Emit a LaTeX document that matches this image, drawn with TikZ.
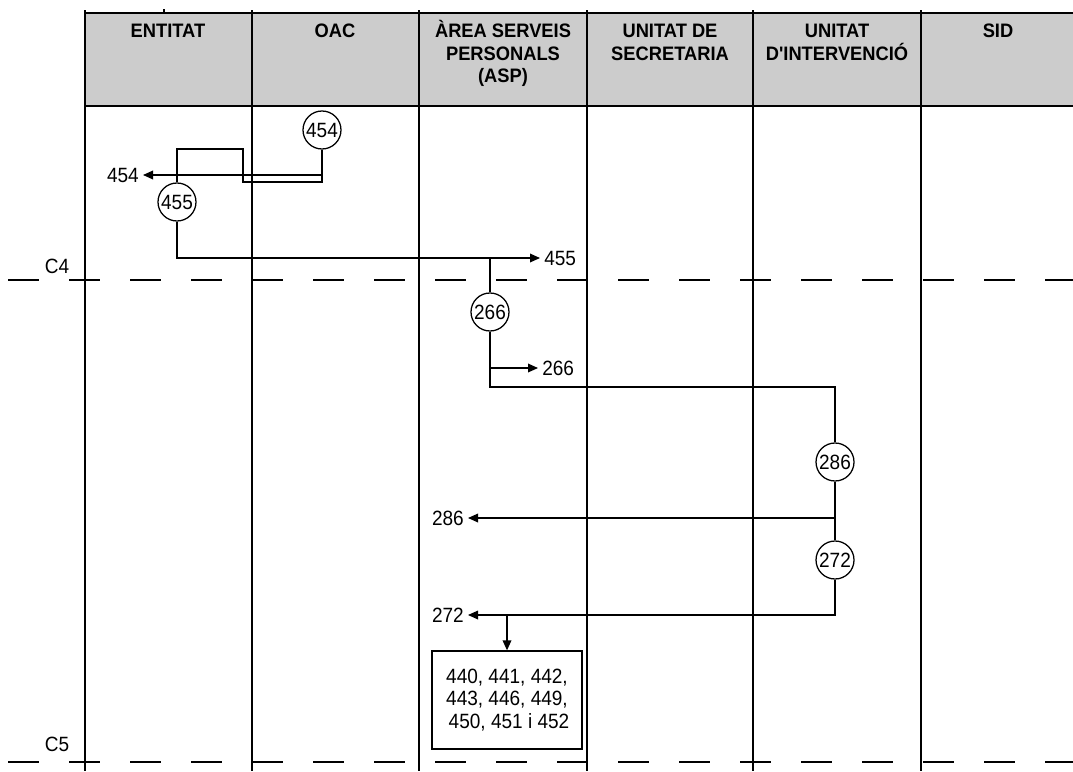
\documentclass[tikz,border=0pt]{standalone}
\usepackage{fontspec}
\setmainfont{Liberation Sans}
\newfontfamily\lblfont[FakeStretch=0.92]{Liberation Sans}
\newfontfamily\hdrfont[FakeStretch=0.94]{Liberation Sans}
\usepackage{tikz}
\usetikzlibrary{arrows.meta, positioning}

\begin{document}
\begin{tikzpicture}[
  x=0.75pt, y=-0.75pt,
  >={Triangle[length=7.5pt, width=6.5pt]},
  conn/.style={line width=0.95pt},
  lane/.style={line width=1.5pt},
  cut/.style={line width=0.95pt, dash pattern=on 23.25pt off 22.5pt},
  hdr/.style={anchor=north, inner sep=0pt, align=center,
              font=\hdrfont\bfseries\fontsize{14.6}{16.9}\selectfont},
  lbl/.style={inner sep=3pt, font=\lblfont\fontsize{15.5}{16.9}\selectfont},
  act/.style={draw, circle, line width=0.95pt, minimum size=28.5pt, inner sep=0pt,
              font=\lblfont\fontsize{15.5}{16.9}\selectfont},
  box/.style={draw, line width=0.95pt, minimum width=112.5pt, minimum height=73.5pt,
              align=center, font=\lblfont\fontsize{15.5}{16.9}\selectfont}]
  \useasboundingbox (0,0) rectangle (1073,771);
  % capçalera
  \fill[black!20] (85,13) rectangle (1073,106);
  \draw[lane] (85,13) -- (1073,13);
  \draw[lane] (85,106) -- (1073,106);
  \draw[line width=0.8pt] (164,9) -- (164,13);
  \foreach \x in {85,252,419,587,753,921}
    \draw[lane] (\x,10) -- (\x,771);
  \node[hdr] (hEnt) at (168,20) {\vphantom{À}ENTITAT};
  \node[hdr] (hOac) at (335,20) {\vphantom{À}OAC};
  \node[hdr] (hAsp) at (503,20) {ÀREA SERVEIS\\PERSONALS\\(ASP)};
  \node[hdr] (hSec) at (670,20) {\vphantom{À}UNITAT DE\\SECRETARIA};
  \node[hdr] (hInt) at (837,20) {\vphantom{À}UNITAT\\D'INTERVENCIÓ};
  \node[hdr] (hSid) at (998,20) {\vphantom{À}SID};
  % talls C4 i C5
  \draw[cut] (8,280) -- (1073,280);
  \draw[cut] (8,762) -- (1073,762);
  \node[lbl] (c4) at (57,266) {C4};
  \node[lbl] (c5) at (57,744) {C5};
  % activitats
  \node[act] (a454) at (322,130) {454};
  \node[act] (a455) at (177,202) {455};
  \node[act] (a266) at (490,312) {266};
  \node[act] (a286) at (835,462) {286};
  \node[act] (a272) at (835,560) {272};
  \node[box] (acts) at (507,700) {440, 441, 442,\\443, 446, 449,\\\hspace{3pt}450, 451 i 452};
  % enllaços a altres fulls
  \node[lbl, anchor=east] (t454) at (143,175) {454};
  \node[lbl, anchor=west] (t455) at (540,258) {455};
  \node[lbl, anchor=west] (t266) at (538,368) {266};
  \node[lbl, anchor=east] (t286) at (468,518) {286};
  \node[lbl, anchor=east] (t272) at (468,615) {272};
  % recorregut
  \coordinate (b1) at (322,182); \coordinate (b2) at (243,182);
  \coordinate (b3) at (243,149); \coordinate (b4) at (177,149);
  \coordinate (b5) at (490,387);
  \draw[conn] (a454) -- (b1) -- (b2) -- (b3) -- (b4) -- (a455);
  \draw[conn, ->] (a454 |- t454) -- (t454);
  \draw[conn, ->] (a455) |- (t455);
  \draw[conn] (a266 |- t455) -- (a266);
  \draw[conn, ->] (a266 |- t266) -- (t266);
  \draw[conn] (a266) -- (b5) -| (a286);
  \draw[conn] (a286) -- (a272);
  \draw[conn, ->] (a286 |- t286) -- (t286);
  \draw[conn, ->] (a272) |- (t272);
  \draw[conn, ->] (acts.north |- t272) -- (acts);
\end{tikzpicture}
\end{document}
